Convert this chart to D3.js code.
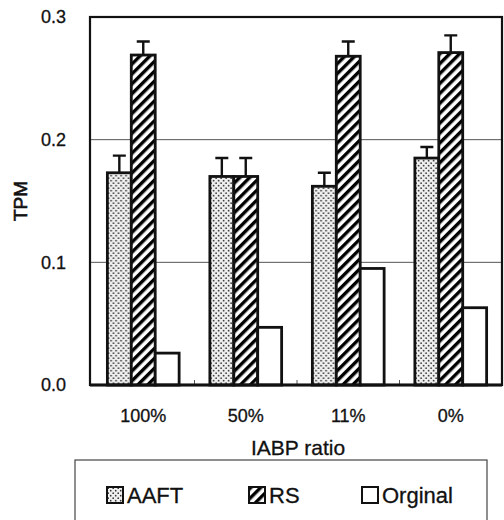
<!DOCTYPE html>
<html>
<head>
<meta charset="utf-8">
<script src="https://cdn.jsdelivr.net/npm/d3@7"></script>
<style>
body { margin: 0; background: #fff; }
svg { font-family: "Liberation Sans", Arial, sans-serif; }
</style>
</head>
<body>
<svg class="chart"></svg>
<script>
// Data
var categories = ["100%", "50%", "11%", "0%"];
var series = ["AAFT", "RS", "Orginal"];
var aaft    = [0.173, 0.170, 0.162, 0.185];
var aaftErr = [0.014, 0.015, 0.011, 0.009];
var rs      = [0.269, 0.170, 0.268, 0.271];
var rsErr   = [0.011, 0.015, 0.012, 0.014];
var orig    = [0.026, 0.047, 0.095, 0.063];
var yTicks  = [0.0, 0.1, 0.2, 0.3];

var w = 504, h = 520;
var svg = d3.select(".chart").attr("width", w).attr("height", h);

var margin = { top: 17, right: 2, bottom: 135, left: 90 },
    width = w - margin.left - margin.right,
    height = h - margin.top - margin.bottom;

var defs = svg.append("defs");
// dotted pattern for AAFT
var dots = defs.append("pattern")
    .attr("id", "dots").attr("patternUnits", "userSpaceOnUse")
    .attr("width", 5).attr("height", 5);
dots.append("rect").attr("width", 5).attr("height", 5).attr("fill", "#f0f0f0");
dots.append("circle").attr("cx", 1.2).attr("cy", 1.2).attr("r", 0.85).attr("fill", "#333");
dots.append("circle").attr("cx", 3.7).attr("cy", 3.7).attr("r", 0.85).attr("fill", "#333");
// diagonal hatch for RS
var hatch = defs.append("pattern")
    .attr("id", "hatch").attr("patternUnits", "userSpaceOnUse")
    .attr("width", 7).attr("height", 7)
    .attr("patternTransform", "rotate(45)");
hatch.append("rect").attr("width", 7).attr("height", 7).attr("fill", "#fff");
hatch.append("rect").attr("width", 3.4).attr("height", 7).attr("fill", "#000");

var fills = { "AAFT": "url(#dots)", "RS": "url(#hatch)", "Orginal": "#fff" };

var g = svg.append("g").attr("transform", "translate(" + margin.left + "," + margin.top + ")");

var x0 = d3.scaleBand().domain(categories).range([2, width]).paddingInner(0.3).paddingOuter(0.15);
var x1 = d3.scaleBand().domain(series).range([0, x0.bandwidth()]);
var y = d3.scaleLinear().domain([0, 0.3]).range([height, 0]);

// gridlines
g.selectAll(".grid").data([0.1, 0.2]).enter().append("line")
    .attr("x1", 0).attr("x2", width)
    .attr("y1", function(d) { return y(d); }).attr("y2", function(d) { return y(d); })
    .attr("stroke", "#555").attr("stroke-width", 1);

// frame
g.append("rect").attr("x", 0).attr("y", 0).attr("width", width).attr("height", height)
    .attr("fill", "none").attr("stroke", "#111").attr("stroke-width", 2.2);

var rows = categories.map(function(c, i) {
    return { cat: c, vals: [
        { s: "AAFT", v: aaft[i], e: aaftErr[i] },
        { s: "RS", v: rs[i], e: rsErr[i] },
        { s: "Orginal", v: orig[i], e: 0 }
    ] };
});

var groups = g.selectAll(".grp").data(rows).enter().append("g")
    .attr("transform", function(d) { return "translate(" + x0(d.cat) + ",0)"; });

// error bars
groups.selectAll(".err").data(function(d) { return d.vals.filter(function(v) { return v.e > 0; }); })
    .enter().append("path")
    .attr("d", function(d) {
        var cx = x1(d.s) + x1.bandwidth() / 2;
        return "M" + cx + "," + y(d.v) + "V" + y(d.v + d.e) +
               "M" + (cx - 6.5) + "," + y(d.v + d.e) + "H" + (cx + 6.5);
    })
    .attr("stroke", "#111").attr("stroke-width", 2.4).attr("fill", "none");

groups.selectAll(".bar").data(function(d) { return d.vals; }).enter().append("rect")
    .attr("x", function(d) { return x1(d.s); })
    .attr("y", function(d) { return y(d.v); })
    .attr("width", x1.bandwidth())
    .attr("height", function(d) { return height - y(d.v); })
    .attr("fill", function(d) { return fills[d.s]; })
    .attr("stroke", "#111").attr("stroke-width", 2.8);

// small separator ticks on the baseline
g.selectAll(".sep").data(categories.slice(1)).enter().append("line")
    .attr("x1", function(d) { return x0(d) - x0.step() * x0.paddingInner() / 2; })
    .attr("x2", function(d) { return x0(d) - x0.step() * x0.paddingInner() / 2; })
    .attr("y1", height).attr("y2", height - 5)
    .attr("stroke", "#555").attr("stroke-width", 1);

// baseline
g.append("line").attr("x1", 0).attr("x2", width).attr("y1", height).attr("y2", height)
    .attr("stroke", "#111").attr("stroke-width", 3);

// axes text
g.selectAll(".ytick").data(yTicks).enter().append("text")
    .attr("x", -24).attr("y", function(d) { return y(d); }).attr("dy", "0.36em")
    .attr("text-anchor", "end").attr("font-size", "18px").attr("fill", "#111")
    .attr("stroke", "#111").attr("stroke-width", 0.3)
    .text(function(d) { return d.toFixed(1); });

g.selectAll(".xtick").data(categories).enter().append("text")
    .attr("x", function(d) { return x0(d) + x0.bandwidth() / 2; })
    .attr("y", height + 37).attr("text-anchor", "middle")
    .attr("font-size", "18px").attr("fill", "#111")
    .attr("stroke", "#111").attr("stroke-width", 0.3)
    .text(function(d) { return d; });

g.append("text")
    .attr("x", width / 2 + 2).attr("y", height + 70)
    .attr("text-anchor", "middle").attr("font-size", "21px").attr("fill", "#111")
    .attr("stroke", "#111").attr("stroke-width", 0.3)
    .text("IABP ratio");

svg.append("text")
    .attr("transform", "translate(27,201) rotate(-90)")
    .attr("text-anchor", "middle").attr("font-size", "19px").attr("fill", "#111")
    .attr("stroke", "#111").attr("stroke-width", 0.6)
    .text("TPM");

// legend
var leg = svg.append("g");
leg.append("rect").attr("x", 75).attr("y", 460).attr("width", 412).attr("height", 62)
    .attr("fill", "#fff").attr("stroke", "#444").attr("stroke-width", 1.2);
var legX = [107, 249, 362];
var items = leg.selectAll(".li").data(series).enter().append("g")
    .attr("transform", function(d, i) { return "translate(" + legX[i] + ",487)"; });
items.append("rect").attr("width", 16).attr("height", 16)
    .attr("fill", function(d) { return fills[d]; })
    .attr("stroke", "#111").attr("stroke-width", 2);
items.append("text").attr("x", 20).attr("y", 8).attr("dy", "0.36em")
    .attr("font-size", "22px").attr("fill", "#111")
    .attr("stroke", "#111").attr("stroke-width", 0.3)
    .text(function(d) { return d; });
</script>
</body>
</html>
